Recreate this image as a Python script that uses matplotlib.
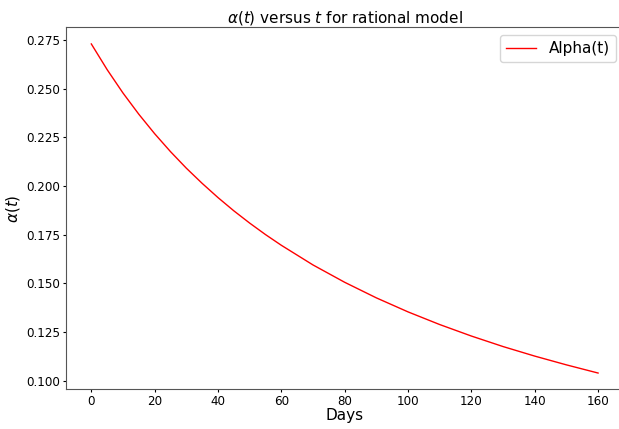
import matplotlib
matplotlib.use("Agg")
import matplotlib.pyplot as plt

days = [0, 5, 10, 15, 20, 25, 30, 35, 40, 45, 50, 55, 60, 70, 80, 90, 100,
        110, 120, 130, 140, 150, 160]
alpha = [0.2730, 0.2598, 0.2478, 0.2369, 0.2269, 0.2177, 0.2092, 0.2014,
         0.1941, 0.1873, 0.1810, 0.1751, 0.1696, 0.1595, 0.1506, 0.1426,
         0.1354, 0.1289, 0.1230, 0.1176, 0.1127, 0.1082, 0.1040]
yticks = [0.100, 0.125, 0.150, 0.175, 0.200, 0.225, 0.250, 0.275]
xticks = [0, 20, 40, 60, 80, 100, 120, 140, 160]

fig = plt.figure(figsize=(6.19, 4.29), dpi=100)
ax = fig.add_axes([0.1066, 0.0921, 0.9005, 0.8438])
ax.plot(days, alpha, color="red", lw=1.0, label="Alpha(t)")
ax.set_xticks(xticks)
ax.set_yticks(yticks)
ax.set_yticklabels([f"{v:.3f}" for v in yticks])
ax.tick_params(labelsize=8.6, length=2.5, pad=1.5)
ax.set_title(r"$\alpha(t)$ versus $t$ for rational model", fontsize=11, pad=2.5)
ax.set_xlabel("Days", fontsize=11, labelpad=0)
ax.set_ylabel(r"$\alpha(t)$", fontsize=11, labelpad=3)
for s in ax.spines.values():
    s.set_color("#555555")
ax.legend(loc="upper right", fontsize=11)
fig.savefig("out.png", dpi=100)
